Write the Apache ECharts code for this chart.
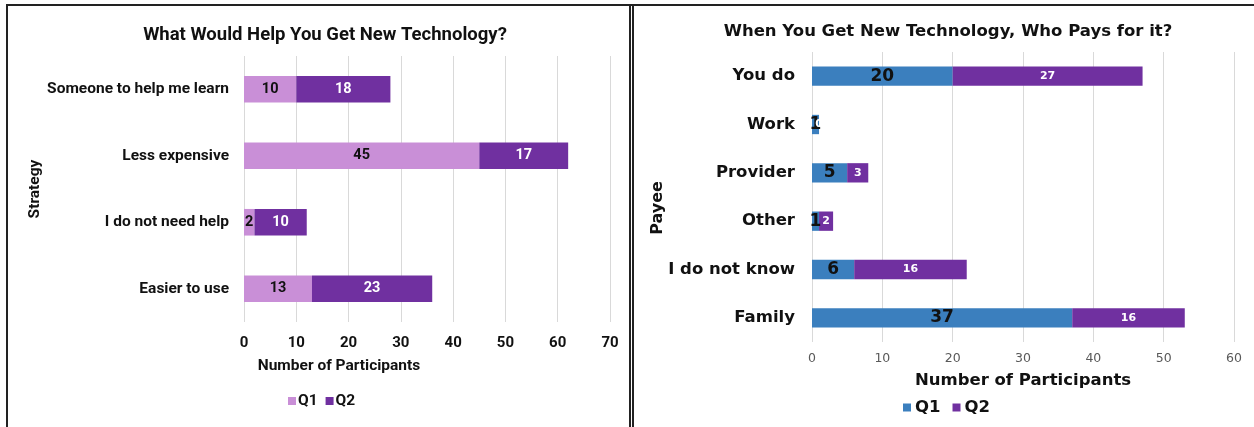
<!DOCTYPE html>
<html>
<head>
<meta charset="utf-8">
<script src="https://cdn.jsdelivr.net/npm/echarts@6/dist/echarts.min.js"></script>
<style>
  html, body { margin: 0; padding: 0; background: #fff; width: 1254px; height: 427px; overflow: hidden; position: relative; }
  #left { position: absolute; left: 0; top: 0; width: 630px; height: 427px; }
  #right { position: absolute; left: 633px; top: 0; width: 621px; height: 427px; }
  .rule { position: absolute; background: #222; }
</style>
</head>
<body>
<div id="left"></div>
<div id="right"></div>
<div class="rule" style="left:6px;top:4px;width:1248px;height:2px"></div>
<div class="rule" style="left:6px;top:4px;width:2px;height:423px"></div>
<div class="rule" style="left:629px;top:4px;width:2px;height:423px"></div>
<div class="rule" style="left:632px;top:4px;width:2px;height:423px"></div>
<script>
// Panel 1: what would help people get new technology (listed top to bottom)
const strategyCategories = ['Someone to help me learn', 'Less expensive', 'I do not need help', 'Easier to use'];
const strategyQ1 = [10, 45, 2, 13];
const strategyQ2 = [18, 17, 10, 23];
const strategyTicks = [0, 10, 20, 30, 40, 50, 60, 70];

// Panel 2: who pays for new technology (listed top to bottom)
const payeeCategories = ['You do', 'Work', 'Provider', 'Other', 'I do not know', 'Family'];
const payeeQ1 = [20, 1, 5, 1, 6, 37];
const payeeQ2 = [27, 0, 3, 2, 16, 16];
const payeeTicks = [0, 10, 20, 30, 40, 50, 60];

const LIGHT_PURPLE = '#C98FD7';
const DARK_PURPLE = '#7030A0';
const BLUE = '#3B7FBE';
const GRID_GREY = '#D9D9D9';

// ---------- left chart ----------
const fL = 'Roboto, "Liberation Sans", sans-serif';
const left = echarts.init(document.getElementById('left'), null, { renderer: 'canvas' });
left.setOption({
  animation: false,
  title: {
    text: 'What Would Help You Get New Technology?',
    left: 320, top: 21, textAlign: 'center',
    textStyle: { fontFamily: fL, fontWeight: 'bold', fontSize: 18.5, color: '#111' }
  },
  legend: {
    data: ['Q1', 'Q2'],
    left: 288, top: 393, padding: 0,
    icon: 'rect', itemWidth: 8, itemHeight: 8, itemGap: 8,
    textStyle: { fontFamily: fL, fontWeight: 'bold', fontSize: 15.5, color: '#111', padding: [0, 0, 0, -3] }
  },
  grid: { left: 244, right: 20, top: 56, bottom: 105 },
  xAxis: {
    type: 'value', min: strategyTicks[0], max: strategyTicks[strategyTicks.length - 1], interval: 10,
    axisLine: { show: false }, axisTick: { show: false },
    splitLine: { show: true, lineStyle: { color: GRID_GREY, width: 1 } },
    axisLabel: { margin: 14, fontFamily: fL, fontWeight: 'bold', fontSize: 15, color: '#111' }
  },
  yAxis: {
    type: 'category', data: strategyCategories, inverse: true,
    axisLine: { show: false }, axisTick: { show: false },
    axisLabel: { margin: 15, fontFamily: fL, fontWeight: 'bold', fontSize: 15.5, color: '#111' }
  },
  graphic: [
    { type: 'text', x: 339, y: 366, style: { text: 'Number of Participants', align: 'center', verticalAlign: 'middle', font: 'bold 15.5px ' + fL, fill: '#111' } },
    { type: 'text', x: 35, y: 189, rotation: Math.PI / 2, style: { text: 'Strategy', align: 'center', verticalAlign: 'middle', font: 'bold 15.5px ' + fL, fill: '#111' } }
  ],
  series: [
    {
      name: 'Q1', type: 'bar', stack: 'total', data: strategyQ1, barWidth: '40%',
      itemStyle: { color: LIGHT_PURPLE },
      label: { show: true, position: 'inside', fontFamily: fL, fontWeight: 'bold', fontSize: 14.5, color: '#111' }
    },
    {
      name: 'Q2', type: 'bar', stack: 'total', data: strategyQ2, barWidth: '40%',
      itemStyle: { color: DARK_PURPLE },
      label: { show: true, position: 'inside', fontFamily: fL, fontWeight: 'bold', fontSize: 14.5, color: '#fff' }
    }
  ]
});

// ---------- right chart ----------
const fR = '"DejaVu Sans", Verdana, sans-serif';
const right = echarts.init(document.getElementById('right'), null, { renderer: 'canvas' });
right.setOption({
  animation: false,
  title: {
    text: 'When You Get New Technology, Who Pays for it?',
    left: 310, top: 18, textAlign: 'center',
    textStyle: { fontFamily: fR, fontWeight: 'bold', fontSize: 16.5, color: '#111' }
  },
  legend: {
    data: ['Q1', 'Q2'],
    left: 270, top: 399, padding: 0,
    icon: 'rect', itemWidth: 8, itemHeight: 8, itemGap: 12,
    textStyle: { fontFamily: fR, fontWeight: 'bold', fontSize: 16.5, color: '#111', padding: [0, 0, 0, -1] }
  },
  grid: { left: 179, right: 20, top: 52, bottom: 85 },
  xAxis: {
    type: 'value', min: payeeTicks[0], max: payeeTicks[payeeTicks.length - 1], interval: 10,
    axisLine: { show: false }, axisTick: { show: false },
    splitLine: { show: true, lineStyle: { color: GRID_GREY, width: 1 } },
    axisLabel: { margin: 10, fontFamily: fR, fontSize: 12.5, color: '#595959' },
    name: 'Number of Participants', nameLocation: 'middle', nameGap: 30,
    nameTextStyle: { fontFamily: fR, fontWeight: 'bold', fontSize: 16.5, color: '#111' }
  },
  yAxis: {
    type: 'category', data: payeeCategories, inverse: true,
    axisLine: { show: false }, axisTick: { show: false },
    axisLabel: { margin: 17, fontFamily: fR, fontWeight: 'bold', fontSize: 16.5, color: '#111' }
  },
  graphic: [
    { type: 'text', x: 25, y: 208, rotation: Math.PI / 2, style: { text: 'Payee', align: 'center', verticalAlign: 'middle', font: 'bold 16px ' + fR, fill: '#111' } }
  ],
  series: [
    {
      name: 'Q1', type: 'bar', stack: 'total', data: payeeQ1, barWidth: '40%',
      itemStyle: { color: BLUE },
      label: { show: true, position: 'inside', fontFamily: fR, fontWeight: 'bold', fontSize: 17, color: '#111' }
    },
    {
      name: 'Q2', type: 'bar', stack: 'total', data: payeeQ2, barWidth: '40%',
      itemStyle: { color: DARK_PURPLE },
      label: { show: true, position: 'inside', fontFamily: fR, fontWeight: 'bold', fontSize: 11, color: '#fff' }
    }
  ]
});
</script>
</body>
</html>
